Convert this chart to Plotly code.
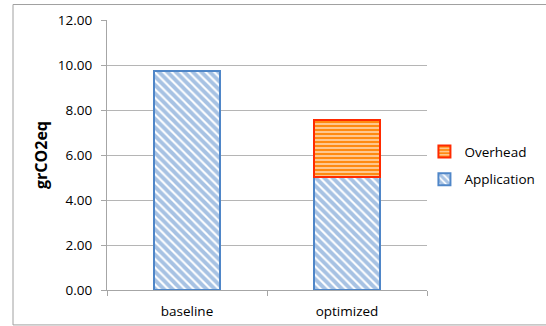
import plotly.graph_objects as go

categories = ["baseline", "optimized"]
application = [9.74, 5.02]
overhead = [None, 2.53]
y_ticks = [0, 2, 4, 6, 8, 10, 12]

FONT = "Open Sans"
FS = 13.5
fig = go.Figure()
fig.add_trace(go.Bar(
    x=categories, y=application, name="Application", legendgroup="a", legendrank=2,
    marker=dict(color="white", line=dict(color="#4f86c8", width=2),
                pattern=dict(shape="\\", fgcolor="#4f86c8", bgcolor="white",
                             size=6, solidity=0.65, fillmode="overlay")),
))
fig.add_trace(go.Bar(
    x=categories, y=overhead, name="Overhead", legendgroup="b", legendrank=1,
    marker=dict(color="#ffd7ae", line=dict(color="#ff2a00", width=2),
                pattern=dict(shape="-", fgcolor="#ff8a10", bgcolor="#ffe2c4",
                             size=4, solidity=0.65, fillmode="replace")),
))

fig.update_layout(
    width=546, height=326, barmode="stack", bargap=0.59,
    margin=dict(l=107, r=119, t=19.5, b=36, autoexpand=False),
    paper_bgcolor="white", plot_bgcolor="white",
    font=dict(family=FONT, size=FS, color="#000"),
    showlegend=True,
    legend=dict(x=0.992, y=0.46, xanchor="left", yanchor="middle",
                traceorder="grouped", tracegroupgap=7,
                font=dict(size=FS, family=FONT), itemwidth=30,
                bgcolor="rgba(0,0,0,0)"),
    xaxis=dict(type="category", tickson="boundaries", ticks="outside", ticklen=5,
               tickcolor="#a6a6a6", showline=True, linecolor="#a6a6a6", linewidth=1,
               showgrid=False, automargin=False, ticklabelstandoff=9,
               tickfont=dict(size=FS, family=FONT)),
    yaxis=dict(range=[0, 12], tickvals=y_ticks, tickformat=".2f", ticks="outside",
               ticklen=5, tickcolor="#a6a6a6", showline=True, linecolor="#a6a6a6",
               linewidth=1, showgrid=True, gridcolor="#b5b5b5", gridwidth=1,
               zeroline=False, ticklabelstandoff=6, automargin=False,
               tickfont=dict(size=FS, family=FONT),
               title=dict(text="<b>grCO2eq</b>", font=dict(size=16, family=FONT), standoff=6)),
    shapes=[dict(type="rect", xref="paper", yref="paper",
                 x0=(13 - 107) / 320, x1=(548 - 107) / 320,
                 y0=(290 - 325) / 270.5, y1=(290 - 4) / 270.5,
                 line=dict(color="#a0a0a0", width=1), layer="below")],
)
fig.write_html("out.html", config={"displayModeBar": False},
               post_script="document.body.style.margin='0';document.body.style.overflow='hidden';")
